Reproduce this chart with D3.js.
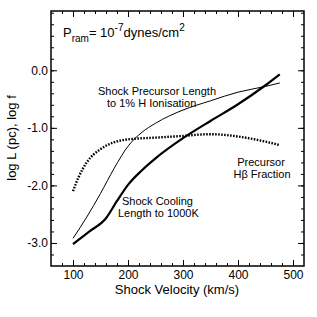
<!DOCTYPE html>
<html>
<head>
<meta charset="utf-8">
<script src="https://cdn.jsdelivr.net/npm/d3@7"></script>
<style>
  body { margin: 0; background: #fff; }
  svg { font-family: "Liberation Sans", Arial, sans-serif; }
</style>
</head>
<body>
<svg id="chart"></svg>
<script>
// shock velocity (km/s)
const coolV = [100, 130, 160, 180, 200, 225, 250, 300, 350, 400, 450, 476]
const coolL = [-3.02, -2.80, -2.57, -2.27, -1.99, -1.74, -1.53, -1.18, -0.88, -0.59, -0.26, -0.07]

const precV = [100, 125, 150, 175, 200, 225, 250, 300, 350, 400, 450, 476]
const precL = [-2.92, -2.55, -2.14, -1.70, -1.32, -1.08, -0.92, -0.69, -0.53, -0.38, -0.28, -0.22]

const hbV = [100, 110, 125, 150, 175, 200, 250, 300, 350, 400, 450, 476]
const hbF = [-2.10, -1.86, -1.60, -1.37, -1.25, -1.20, -1.17, -1.14, -1.11, -1.15, -1.24, -1.30]

const xTicks = [100, 200, 300, 400, 500]
const yTicks = [0, -1, -2, -3]

const width = 317
const height = 317

const svg = d3.select("#chart")
      .attr("width", width)
      .attr("height", height)

const x = d3.scaleLinear().domain([60, 520]).range([51, 304])
const y = d3.scaleLinear().domain([-3.4, 1.03]).range([266, 11])

const xMinor = d3.range(60, 521, 20).filter(v => v > 60 && v < 520)
const yMinor = d3.range(-34, 11, 2).map(v => v / 10).filter(v => v > -3.4 && v < 1.03)

function drawAxis(axis, tx, ty) {
      const g = svg.append("g")
            .attr("transform", `translate(${tx},${ty})`)
            .call(axis)
      g.select(".domain").remove()
      g.selectAll("line").attr("stroke", "#000").attr("stroke-width", 1)
      return g
}

// minor ticks
drawAxis(d3.axisBottom(x).tickValues(xMinor).tickSize(-3).tickFormat(""), 0, 266)
drawAxis(d3.axisTop(x).tickValues(xMinor).tickSize(-3).tickFormat(""), 0, 11)
drawAxis(d3.axisLeft(y).tickValues(yMinor).tickSize(-3).tickFormat(""), 51, 0)
drawAxis(d3.axisRight(y).tickValues(yMinor).tickSize(-3).tickFormat(""), 304, 0)

// major ticks
const bx = drawAxis(d3.axisBottom(x).tickValues(xTicks).tickSize(-6).tickPadding(4).tickFormat(d3.format("d")), 0, 266)
drawAxis(d3.axisTop(x).tickValues(xTicks).tickSize(-6).tickFormat(""), 0, 11)
const ly = drawAxis(d3.axisLeft(y).tickValues(yTicks).tickSize(-6).tickPadding(3).tickFormat(d3.format(".1f")), 51, 0)
drawAxis(d3.axisRight(y).tickValues(yTicks).tickSize(-6).tickFormat(""), 304, 0)

bx.selectAll("text").attr("font-size", 12).attr("fill", "#000")
ly.selectAll("text").attr("font-size", 12).attr("fill", "#000")
      .text(d => d === 0 ? "0.0" : d3.format(".1f")(d).replace("−", "-"))

// frame
svg.append("rect")
      .attr("x", 51).attr("y", 11)
      .attr("width", 253).attr("height", 255)
      .attr("fill", "none")
      .attr("stroke", "#000")
      .attr("stroke-width", 1.5)

const line = d3.line()
      .x(d => x(d[0]))
      .y(d => y(d[1]))
      .curve(d3.curveMonotoneX)

svg.append("path")
      .attr("d", line(d3.zip(coolV, coolL)))
      .attr("fill", "none").attr("stroke", "#000").attr("stroke-width", 2.2)

svg.append("path")
      .attr("d", line(d3.zip(precV, precL)))
      .attr("fill", "none").attr("stroke", "#000").attr("stroke-width", 1)

svg.append("path")
      .attr("d", line(d3.zip(hbV, hbF)))
      .attr("fill", "none").attr("stroke", "#000").attr("stroke-width", 2.4)
      .attr("stroke-dasharray", "1.6,1.4")

// labels
const lbl = svg.append("g").attr("font-size", 11).attr("fill", "#000")
lbl.append("text").attr("x", 98).attr("y", 95).text("Shock Precursor Length")
lbl.append("text").attr("x", 107).attr("y", 107).text("to 1% H Ionisation")
lbl.append("text").attr("x", 122).attr("y", 205).text("Shock Cooling")
lbl.append("text").attr("x", 118).attr("y", 217).text("Length to 1000K")
lbl.append("text").attr("x", 261).attr("y", 166).attr("text-anchor", "middle").text("Precursor")
lbl.append("text").attr("x", 262).attr("y", 178).attr("text-anchor", "middle").text("Hβ Fraction")

const pram = svg.append("text").attr("x", 63).attr("y", 37).attr("font-size", 13)
pram.append("tspan").text("P")
pram.append("tspan").attr("font-size", 10).attr("dy", 5).text("ram")
pram.append("tspan").attr("dy", -5).text("= 10")
pram.append("tspan").attr("font-size", 10).attr("dy", -6).text("-7")
pram.append("tspan").attr("dy", 6).text("dynes/cm")
pram.append("tspan").attr("font-size", 10).attr("dy", -6).text("2")

svg.append("text")
      .attr("x", 177).attr("y", 294)
      .attr("text-anchor", "middle")
      .attr("font-size", 13)
      .text("Shock Velocity (km/s)")

svg.append("text")
      .attr("transform", "translate(16,138) rotate(-90)")
      .attr("text-anchor", "middle")
      .attr("font-size", 13)
      .text("log L (pc), log f")
</script>
</body>
</html>
